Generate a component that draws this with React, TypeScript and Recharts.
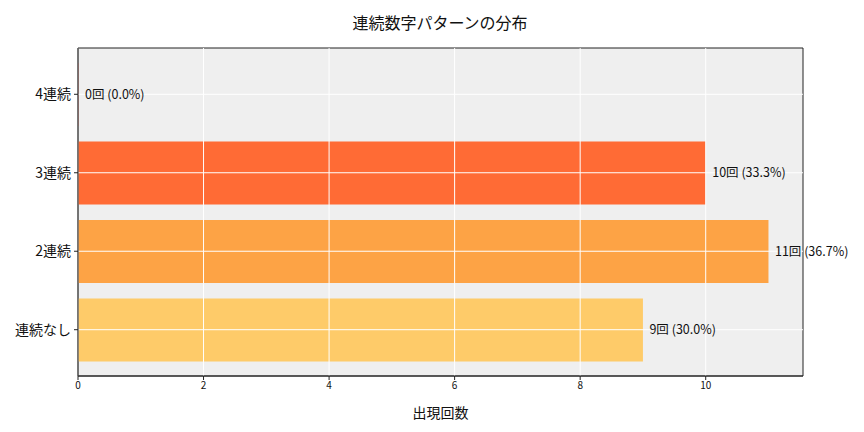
import { ComposedChart, Bar, XAxis, YAxis, CartesianGrid, Cell, LabelList, ReferenceLine, ReferenceArea } from "recharts";

const CATEGORIES = ["4連続", "3連続", "2連続", "連続なし"];
const COUNTS = [0, 10, 11, 9];
const PERCENTS = ["0.0", "33.3", "36.7", "30.0"];
const COLORS = ["#FF3B2F", "#FF6B35", "#FDA345", "#FECB69"];
const X_TICKS = [0, 2, 4, 6, 8, 10];
const X_MAX = 11.55;
const Y_DOMAIN = [-0.59, 3.59];

const FONT = "'Noto Sans CJK JP', 'Noto Sans', sans-serif";
const AXIS = "#222";

const data = CATEGORIES.map((name, i) => ({ name, pos: i, value: COUNTS[i], pct: PERCENTS[i] }));
const Y_TICKS = data.map((d) => d.pos);

function ValueLabel(props: any) {
  const { x, y, width, height, value } = props;
  const d = data.find((r) => r.name === value);
  if (!d) return null;
  return (
    <text x={x + width + 6.5} y={y + height / 2} dy="0.35em" fontSize={12.5} fill="#111" fontFamily={FONT}>
      {`${d.value}回 (${d.pct}%)`}
    </text>
  );
}

export default function App() {
  return (
    <div style={{ position: "absolute", left: 0, top: 0, width: 864, height: 432, background: "#fff", fontFamily: FONT }}>
      <div style={{ position: "absolute", left: 0, top: 10, width: 880, textAlign: "center", fontSize: 16, color: "#111" }}>
        連続数字パターンの分布
      </div>
      <ComposedChart
        width={864}
        height={432}
        data={data}
        layout="vertical"
        margin={{ top: 48, right: 61, bottom: 0, left: 0 }}
      >
        <CartesianGrid fill="#EFEFEF" stroke="none" />
        <XAxis
          type="number"
          domain={[0, X_MAX]}
          ticks={X_TICKS}
          allowDataOverflow
          height={56}
          tick={{ fontSize: 10, fill: "#111", fontFamily: FONT }}
          tickSize={4}
          tickMargin={2}
          stroke={AXIS}
          label={{ value: "出現回数", position: "insideBottom", offset: 14, fontSize: 14, fill: "#111", fontFamily: FONT }}
        />
        <YAxis
          type="number"
          dataKey="pos"
          domain={Y_DOMAIN}
          allowDataOverflow
          ticks={Y_TICKS}
          interval={0}
          tickFormatter={(i: number) => CATEGORIES[i] ?? ""}
          width={78}
          tick={{ fontSize: 14, fill: "#111", fontFamily: FONT }}
          tickSize={4}
          tickMargin={3}
          stroke={AXIS}
        />
        <Bar dataKey="value" barSize={63} minPointSize={0.5} isAnimationActive={false}>
          {data.map((d, i) => (
            <Cell key={d.name} fill={COLORS[i]} />
          ))}
          <LabelList dataKey="name" content={<ValueLabel />} />
        </Bar>
        {X_TICKS.map((t) => (
          <ReferenceLine key={`x${t}`} x={t} stroke="#fff" strokeWidth={1} />
        ))}
        {Y_TICKS.map((p) => (
          <ReferenceLine key={`y${p}`} y={p} stroke="#fff" strokeWidth={1} />
        ))}
        <ReferenceArea x1={0} x2={X_MAX} y1={Y_DOMAIN[0]} y2={Y_DOMAIN[1]} fill="none" stroke={AXIS} strokeWidth={1} fillOpacity={0} />
      </ComposedChart>
    </div>
  );
}
